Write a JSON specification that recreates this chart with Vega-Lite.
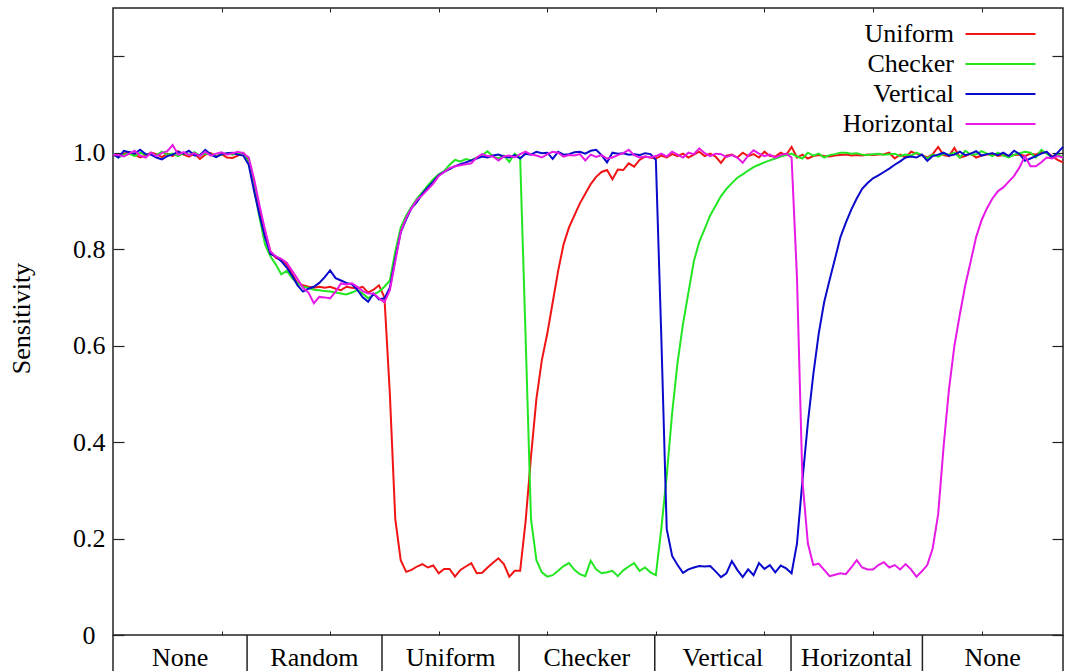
{
"$schema": "https://vega.github.io/schema/vega-lite/v6.json",
"width": 950, "height": 627,
"autosize": {"type": "none"},
"padding": {"left": 113, "top": 8, "right": 2, "bottom": 36},
"background": "white",
"config": {"view": {"stroke": "#222", "strokeWidth": 1.5}, "font": "Liberation Serif", "axis": {"domain": false, "grid": false}},
"datasets": {
"curves": [
{"x":0,"Uniform":0.995,"Checker":0.998,"Vertical":0.997,"Horizontal":0.996},
{"x":1,"Uniform":0.993,"Checker":0.99,"Vertical":0.99,"Horizontal":0.995},
{"x":2,"Uniform":0.998,"Checker":0.996,"Vertical":1.004,"Horizontal":0.992},
{"x":3,"Uniform":1.002,"Checker":0.998,"Vertical":1.001,"Horizontal":0.998},
{"x":4,"Uniform":0.996,"Checker":0.993,"Vertical":0.998,"Horizontal":1.004},
{"x":5,"Uniform":0.99,"Checker":1.0,"Vertical":1.006,"Horizontal":0.994},
{"x":6,"Uniform":0.994,"Checker":0.996,"Vertical":0.997,"Horizontal":0.99},
{"x":7,"Uniform":1.0,"Checker":0.998,"Vertical":0.996,"Horizontal":1.0},
{"x":8,"Uniform":0.997,"Checker":0.995,"Vertical":0.99,"Horizontal":0.993},
{"x":9,"Uniform":0.991,"Checker":1.002,"Vertical":0.986,"Horizontal":0.999},
{"x":10,"Uniform":0.998,"Checker":0.996,"Vertical":0.993,"Horizontal":1.003},
{"x":11,"Uniform":0.993,"Checker":0.998,"Vertical":0.996,"Horizontal":1.016},
{"x":12,"Uniform":1.003,"Checker":0.993,"Vertical":1.002,"Horizontal":0.996},
{"x":13,"Uniform":0.996,"Checker":0.999,"Vertical":0.998,"Horizontal":1.001},
{"x":14,"Uniform":0.992,"Checker":0.996,"Vertical":1.004,"Horizontal":0.995},
{"x":15,"Uniform":0.998,"Checker":1.001,"Vertical":0.994,"Horizontal":0.999},
{"x":16,"Uniform":0.987,"Checker":0.994,"Vertical":0.995,"Horizontal":0.993},
{"x":17,"Uniform":0.996,"Checker":0.998,"Vertical":1.006,"Horizontal":1.002},
{"x":18,"Uniform":0.999,"Checker":0.997,"Vertical":0.996,"Horizontal":0.994},
{"x":19,"Uniform":0.993,"Checker":0.992,"Vertical":0.991,"Horizontal":0.998},
{"x":20,"Uniform":0.997,"Checker":0.996,"Vertical":0.997,"Horizontal":1.001},
{"x":21,"Uniform":0.99,"Checker":0.999,"Vertical":0.999,"Horizontal":0.996},
{"x":22,"Uniform":0.989,"Checker":0.996,"Vertical":1.0,"Horizontal":0.999},
{"x":23,"Uniform":0.994,"Checker":1.0,"Vertical":0.996,"Horizontal":1.002},
{"x":24,"Uniform":1.0,"Checker":0.998,"Vertical":0.994,"Horizontal":0.999},
{"x":25,"Uniform":0.985,"Checker":0.98,"Vertical":0.975,"Horizontal":0.99},
{"x":26,"Uniform":0.935,"Checker":0.925,"Vertical":0.92,"Horizontal":0.945},
{"x":27,"Uniform":0.88,"Checker":0.865,"Vertical":0.87,"Horizontal":0.89},
{"x":28,"Uniform":0.835,"Checker":0.81,"Vertical":0.825,"Horizontal":0.84},
{"x":29,"Uniform":0.795,"Checker":0.785,"Vertical":0.79,"Horizontal":0.795},
{"x":30,"Uniform":0.782,"Checker":0.768,"Vertical":0.785,"Horizontal":0.785},
{"x":31,"Uniform":0.778,"Checker":0.748,"Vertical":0.775,"Horizontal":0.78},
{"x":32,"Uniform":0.768,"Checker":0.755,"Vertical":0.762,"Horizontal":0.772},
{"x":33,"Uniform":0.748,"Checker":0.74,"Vertical":0.745,"Horizontal":0.755},
{"x":34,"Uniform":0.73,"Checker":0.729,"Vertical":0.725,"Horizontal":0.738},
{"x":35,"Uniform":0.725,"Checker":0.722,"Vertical":0.712,"Horizontal":0.72},
{"x":36,"Uniform":0.722,"Checker":0.72,"Vertical":0.718,"Horizontal":0.71},
{"x":37,"Uniform":0.72,"Checker":0.716,"Vertical":0.722,"Horizontal":0.688},
{"x":38,"Uniform":0.722,"Checker":0.715,"Vertical":0.73,"Horizontal":0.701},
{"x":39,"Uniform":0.72,"Checker":0.713,"Vertical":0.742,"Horizontal":0.7},
{"x":40,"Uniform":0.722,"Checker":0.712,"Vertical":0.756,"Horizontal":0.698},
{"x":41,"Uniform":0.718,"Checker":0.71,"Vertical":0.74,"Horizontal":0.712},
{"x":42,"Uniform":0.715,"Checker":0.708,"Vertical":0.735,"Horizontal":0.729},
{"x":43,"Uniform":0.722,"Checker":0.706,"Vertical":0.73,"Horizontal":0.727},
{"x":44,"Uniform":0.72,"Checker":0.71,"Vertical":0.727,"Horizontal":0.729},
{"x":45,"Uniform":0.719,"Checker":0.715,"Vertical":0.716,"Horizontal":0.722},
{"x":46,"Uniform":0.722,"Checker":0.708,"Vertical":0.7,"Horizontal":0.713},
{"x":47,"Uniform":0.71,"Checker":0.698,"Vertical":0.691,"Horizontal":0.708},
{"x":48,"Uniform":0.716,"Checker":0.706,"Vertical":0.708,"Horizontal":0.708},
{"x":49,"Uniform":0.725,"Checker":0.712,"Vertical":0.696,"Horizontal":0.698},
{"x":50,"Uniform":0.7,"Checker":0.722,"Vertical":0.698,"Horizontal":0.69},
{"x":51,"Uniform":0.5,"Checker":0.735,"Vertical":0.72,"Horizontal":0.715},
{"x":52,"Uniform":0.24,"Checker":0.795,"Vertical":0.78,"Horizontal":0.775},
{"x":53,"Uniform":0.155,"Checker":0.845,"Vertical":0.835,"Horizontal":0.835},
{"x":54,"Uniform":0.131,"Checker":0.87,"Vertical":0.862,"Horizontal":0.865},
{"x":55,"Uniform":0.135,"Checker":0.888,"Vertical":0.885,"Horizontal":0.885},
{"x":56,"Uniform":0.142,"Checker":0.905,"Vertical":0.898,"Horizontal":0.902},
{"x":57,"Uniform":0.147,"Checker":0.918,"Vertical":0.915,"Horizontal":0.912},
{"x":58,"Uniform":0.14,"Checker":0.932,"Vertical":0.928,"Horizontal":0.924},
{"x":59,"Uniform":0.144,"Checker":0.945,"Vertical":0.94,"Horizontal":0.936},
{"x":60,"Uniform":0.128,"Checker":0.955,"Vertical":0.953,"Horizontal":0.952},
{"x":61,"Uniform":0.137,"Checker":0.962,"Vertical":0.96,"Horizontal":0.96},
{"x":62,"Uniform":0.137,"Checker":0.975,"Vertical":0.966,"Horizontal":0.968},
{"x":63,"Uniform":0.121,"Checker":0.985,"Vertical":0.972,"Horizontal":0.972},
{"x":64,"Uniform":0.135,"Checker":0.982,"Vertical":0.976,"Horizontal":0.974},
{"x":65,"Uniform":0.142,"Checker":0.987,"Vertical":0.98,"Horizontal":0.976},
{"x":66,"Uniform":0.149,"Checker":0.984,"Vertical":0.984,"Horizontal":0.978},
{"x":67,"Uniform":0.128,"Checker":0.99,"Vertical":0.988,"Horizontal":0.99},
{"x":68,"Uniform":0.129,"Checker":0.995,"Vertical":0.992,"Horizontal":0.997},
{"x":69,"Uniform":0.14,"Checker":1.003,"Vertical":0.99,"Horizontal":0.993},
{"x":70,"Uniform":0.15,"Checker":0.992,"Vertical":0.994,"Horizontal":0.992},
{"x":71,"Uniform":0.159,"Checker":0.988,"Vertical":0.996,"Horizontal":0.984},
{"x":72,"Uniform":0.147,"Checker":0.994,"Vertical":0.992,"Horizontal":0.992},
{"x":73,"Uniform":0.121,"Checker":0.981,"Vertical":0.99,"Horizontal":0.994},
{"x":74,"Uniform":0.133,"Checker":0.998,"Vertical":0.995,"Horizontal":0.99},
{"x":75,"Uniform":0.133,"Checker":0.99,"Vertical":0.988,"Horizontal":0.997},
{"x":76,"Uniform":0.235,"Checker":0.62,"Vertical":0.998,"Horizontal":1.002},
{"x":77,"Uniform":0.37,"Checker":0.24,"Vertical":0.996,"Horizontal":0.996},
{"x":78,"Uniform":0.49,"Checker":0.155,"Vertical":1.002,"Horizontal":0.994},
{"x":79,"Uniform":0.57,"Checker":0.13,"Vertical":0.999,"Horizontal":0.99},
{"x":80,"Uniform":0.625,"Checker":0.121,"Vertical":1.0,"Horizontal":0.997},
{"x":81,"Uniform":0.69,"Checker":0.124,"Vertical":0.987,"Horizontal":1.002},
{"x":82,"Uniform":0.755,"Checker":0.133,"Vertical":1.002,"Horizontal":1.0},
{"x":83,"Uniform":0.81,"Checker":0.143,"Vertical":0.996,"Horizontal":0.992},
{"x":84,"Uniform":0.845,"Checker":0.149,"Vertical":0.997,"Horizontal":0.995},
{"x":85,"Uniform":0.87,"Checker":0.135,"Vertical":1.001,"Horizontal":0.994},
{"x":86,"Uniform":0.895,"Checker":0.126,"Vertical":1.002,"Horizontal":0.997},
{"x":87,"Uniform":0.915,"Checker":0.122,"Vertical":0.998,"Horizontal":0.984},
{"x":88,"Uniform":0.935,"Checker":0.154,"Vertical":1.004,"Horizontal":0.996},
{"x":89,"Uniform":0.95,"Checker":0.136,"Vertical":1.006,"Horizontal":0.991},
{"x":90,"Uniform":0.96,"Checker":0.128,"Vertical":0.995,"Horizontal":0.995},
{"x":91,"Uniform":0.964,"Checker":0.13,"Vertical":0.98,"Horizontal":0.988},
{"x":92,"Uniform":0.945,"Checker":0.133,"Vertical":1.0,"Horizontal":0.99},
{"x":93,"Uniform":0.965,"Checker":0.122,"Vertical":0.998,"Horizontal":0.995},
{"x":94,"Uniform":0.964,"Checker":0.134,"Vertical":0.999,"Horizontal":0.999},
{"x":95,"Uniform":0.978,"Checker":0.142,"Vertical":0.996,"Horizontal":1.006},
{"x":96,"Uniform":0.971,"Checker":0.149,"Vertical":0.997,"Horizontal":0.995},
{"x":97,"Uniform":0.985,"Checker":0.133,"Vertical":0.995,"Horizontal":0.99},
{"x":98,"Uniform":0.992,"Checker":0.14,"Vertical":0.999,"Horizontal":0.992},
{"x":99,"Uniform":0.99,"Checker":0.13,"Vertical":0.997,"Horizontal":0.99},
{"x":100,"Uniform":0.988,"Checker":0.124,"Vertical":0.985,"Horizontal":0.993},
{"x":101,"Uniform":0.994,"Checker":0.22,"Vertical":0.62,"Horizontal":0.998},
{"x":102,"Uniform":0.99,"Checker":0.33,"Vertical":0.22,"Horizontal":0.992},
{"x":103,"Uniform":0.997,"Checker":0.46,"Vertical":0.164,"Horizontal":1.002},
{"x":104,"Uniform":0.993,"Checker":0.565,"Vertical":0.145,"Horizontal":0.996},
{"x":105,"Uniform":0.998,"Checker":0.645,"Vertical":0.129,"Horizontal":0.99},
{"x":106,"Uniform":0.99,"Checker":0.71,"Vertical":0.136,"Horizontal":1.0},
{"x":107,"Uniform":0.996,"Checker":0.775,"Vertical":0.14,"Horizontal":0.997},
{"x":108,"Uniform":1.002,"Checker":0.815,"Vertical":0.143,"Horizontal":1.009},
{"x":109,"Uniform":0.993,"Checker":0.842,"Vertical":0.142,"Horizontal":0.999},
{"x":110,"Uniform":0.998,"Checker":0.87,"Vertical":0.143,"Horizontal":0.993},
{"x":111,"Uniform":0.992,"Checker":0.89,"Vertical":0.132,"Horizontal":0.998},
{"x":112,"Uniform":0.979,"Checker":0.91,"Vertical":0.12,"Horizontal":0.997},
{"x":113,"Uniform":0.994,"Checker":0.925,"Vertical":0.128,"Horizontal":0.991},
{"x":114,"Uniform":0.996,"Checker":0.937,"Vertical":0.153,"Horizontal":0.995},
{"x":115,"Uniform":0.99,"Checker":0.948,"Vertical":0.135,"Horizontal":0.99},
{"x":116,"Uniform":1.0,"Checker":0.955,"Vertical":0.12,"Horizontal":0.979},
{"x":117,"Uniform":0.993,"Checker":0.963,"Vertical":0.136,"Horizontal":0.994},
{"x":118,"Uniform":0.997,"Checker":0.97,"Vertical":0.124,"Horizontal":1.005},
{"x":119,"Uniform":0.99,"Checker":0.975,"Vertical":0.149,"Horizontal":0.998},
{"x":120,"Uniform":1.002,"Checker":0.98,"Vertical":0.137,"Horizontal":0.993},
{"x":121,"Uniform":0.993,"Checker":0.984,"Vertical":0.145,"Horizontal":0.996},
{"x":122,"Uniform":0.992,"Checker":0.988,"Vertical":0.13,"Horizontal":0.99},
{"x":123,"Uniform":1.0,"Checker":0.992,"Vertical":0.144,"Horizontal":0.995},
{"x":124,"Uniform":0.995,"Checker":0.995,"Vertical":0.138,"Horizontal":0.998},
{"x":125,"Uniform":1.012,"Checker":0.998,"Vertical":0.128,"Horizontal":0.99},
{"x":126,"Uniform":0.99,"Checker":0.992,"Vertical":0.19,"Horizontal":0.74},
{"x":127,"Uniform":0.996,"Checker":0.988,"Vertical":0.32,"Horizontal":0.32},
{"x":128,"Uniform":0.988,"Checker":1.0,"Vertical":0.44,"Horizontal":0.19},
{"x":129,"Uniform":0.993,"Checker":0.994,"Vertical":0.54,"Horizontal":0.145},
{"x":130,"Uniform":0.995,"Checker":0.998,"Vertical":0.625,"Horizontal":0.148},
{"x":131,"Uniform":0.993,"Checker":0.99,"Vertical":0.69,"Horizontal":0.135},
{"x":132,"Uniform":0.992,"Checker":0.995,"Vertical":0.736,"Horizontal":0.122},
{"x":133,"Uniform":0.994,"Checker":0.997,"Vertical":0.78,"Horizontal":0.125},
{"x":134,"Uniform":0.995,"Checker":1.0,"Vertical":0.825,"Horizontal":0.128},
{"x":135,"Uniform":0.996,"Checker":1.0,"Vertical":0.855,"Horizontal":0.126},
{"x":136,"Uniform":0.994,"Checker":0.998,"Vertical":0.882,"Horizontal":0.14},
{"x":137,"Uniform":0.995,"Checker":0.999,"Vertical":0.905,"Horizontal":0.155},
{"x":138,"Uniform":0.994,"Checker":0.996,"Vertical":0.925,"Horizontal":0.14},
{"x":139,"Uniform":0.996,"Checker":0.995,"Vertical":0.937,"Horizontal":0.136},
{"x":140,"Uniform":0.995,"Checker":0.997,"Vertical":0.947,"Horizontal":0.136},
{"x":141,"Uniform":0.996,"Checker":0.998,"Vertical":0.953,"Horizontal":0.145},
{"x":142,"Uniform":0.997,"Checker":0.996,"Vertical":0.96,"Horizontal":0.151},
{"x":143,"Uniform":1.0,"Checker":0.997,"Vertical":0.967,"Horizontal":0.14},
{"x":144,"Uniform":0.988,"Checker":0.998,"Vertical":0.975,"Horizontal":0.145},
{"x":145,"Uniform":0.996,"Checker":0.993,"Vertical":0.982,"Horizontal":0.136},
{"x":146,"Uniform":0.99,"Checker":0.996,"Vertical":0.99,"Horizontal":0.147},
{"x":147,"Uniform":1.002,"Checker":0.994,"Vertical":0.992,"Horizontal":0.136},
{"x":148,"Uniform":0.998,"Checker":1.0,"Vertical":0.99,"Horizontal":0.121},
{"x":149,"Uniform":0.995,"Checker":0.995,"Vertical":0.996,"Horizontal":0.132},
{"x":150,"Uniform":0.99,"Checker":0.988,"Vertical":0.983,"Horizontal":0.145},
{"x":151,"Uniform":0.997,"Checker":0.996,"Vertical":0.993,"Horizontal":0.18},
{"x":152,"Uniform":1.012,"Checker":0.992,"Vertical":0.996,"Horizontal":0.25},
{"x":153,"Uniform":0.995,"Checker":0.998,"Vertical":1.0,"Horizontal":0.39},
{"x":154,"Uniform":0.993,"Checker":0.996,"Vertical":0.994,"Horizontal":0.51},
{"x":155,"Uniform":1.01,"Checker":1.0,"Vertical":0.996,"Horizontal":0.6},
{"x":156,"Uniform":0.99,"Checker":0.99,"Vertical":1.002,"Horizontal":0.665},
{"x":157,"Uniform":0.993,"Checker":1.004,"Vertical":0.995,"Horizontal":0.725},
{"x":158,"Uniform":0.998,"Checker":0.996,"Vertical":0.998,"Horizontal":0.775},
{"x":159,"Uniform":0.99,"Checker":0.996,"Vertical":1.003,"Horizontal":0.825},
{"x":160,"Uniform":0.994,"Checker":1.003,"Vertical":0.994,"Horizontal":0.86},
{"x":161,"Uniform":0.996,"Checker":0.998,"Vertical":0.997,"Horizontal":0.885},
{"x":162,"Uniform":0.998,"Checker":0.993,"Vertical":0.999,"Horizontal":0.905},
{"x":163,"Uniform":0.993,"Checker":1.0,"Vertical":0.995,"Horizontal":0.92},
{"x":164,"Uniform":0.995,"Checker":0.994,"Vertical":1.0,"Horizontal":0.928},
{"x":165,"Uniform":0.993,"Checker":0.99,"Vertical":0.993,"Horizontal":0.94},
{"x":166,"Uniform":0.995,"Checker":0.996,"Vertical":1.004,"Horizontal":0.952},
{"x":167,"Uniform":0.996,"Checker":0.999,"Vertical":0.997,"Horizontal":0.97},
{"x":168,"Uniform":0.993,"Checker":1.002,"Vertical":0.983,"Horizontal":0.993},
{"x":169,"Uniform":0.998,"Checker":1.0,"Vertical":0.988,"Horizontal":0.972},
{"x":170,"Uniform":0.996,"Checker":0.99,"Vertical":0.993,"Horizontal":0.972},
{"x":171,"Uniform":1.002,"Checker":1.006,"Vertical":0.998,"Horizontal":0.98},
{"x":172,"Uniform":1.0,"Checker":0.998,"Vertical":1.002,"Horizontal":0.99},
{"x":173,"Uniform":0.993,"Checker":0.99,"Vertical":0.99,"Horizontal":0.988},
{"x":174,"Uniform":0.985,"Checker":0.997,"Vertical":1.0,"Horizontal":0.993},
{"x":175,"Uniform":0.98,"Checker":0.99,"Vertical":1.012,"Horizontal":0.99}
],
"edges": [{"edge":0},{"edge":24.7},{"edge":49.55},{"edge":74.8},{"edge":99.8},{"edge":124.9},{"edge":149.1},{"edge":175}],
"labels": [
{"label":"None","mid":12.35},
{"label":"Random","mid":37.1},
{"label":"Uniform","mid":62.2},
{"label":"Checker","mid":87.3},
{"label":"Vertical","mid":112.35},
{"label":"Horizontal","mid":137.0},
{"label":"None","mid":162.05}
]
},
"layer": [
{
"data": {"name": "curves"},
"transform": [{"fold": ["Uniform", "Checker", "Vertical", "Horizontal"], "as": ["series", "value"]}],
"mark": {"type": "line", "strokeWidth": 2},
"encoding": {
"x": {"field": "x", "type": "quantitative", "scale": {"domain": [0, 175], "nice": false, "zero": false},
"axis": {"orient": "bottom", "values": [20, 40, 60, 80, 100, 120, 140, 160], "tickSize": -4, "tickColor": "#222", "labels": false, "title": null}},
"y": {"field": "value", "type": "quantitative", "scale": {"domain": [0, 1.3], "nice": false, "zero": false},
"axis": {"orient": "left", "values": [0, 0.2, 0.4, 0.6, 0.8, 1.0, 1.2], "tickSize": -11, "tickColor": "#222", "tickWidth": 1.2,
"labelExpr": "datum.value == 0 ? '0' : (datum.value > 1.1 ? '' : format(datum.value, '.1f'))",
"labelFont": "Liberation Serif", "labelFontSize": 26, "labelColor": "black",
"labelPadding": {"condition": {"test": "datum.value == 0", "value": 29}, "value": 19},
"title": "Sensitivity", "titleFont": "Liberation Serif", "titleFontSize": 26, "titleFontWeight": "normal", "titleColor": "black",
"titleX": -92, "titleY": 310, "titleAngle": -90, "titleAlign": "center", "titleBaseline": "middle"}},
"color": {"field": "series", "type": "nominal",
"scale": {"domain": ["Uniform", "Checker", "Vertical", "Horizontal"], "range": ["#f01414", "#22e622", "#0a0acc", "#e619e6"]},
"legend": {"orient": "none", "legendX": 874.5, "legendY": 13, "title": null, "symbolType": "M-5,0H5", "symbolSize": 196, "symbolStrokeWidth": 2,
"labelAlign": "right", "labelOffset": -59.5, "labelFont": "Liberation Serif", "labelFontSize": 26, "labelColor": "black", "rowPadding": 4, "padding": 0}}
}
},
{
"data": {"name": "edges"},
"mark": {"type": "rule", "color": "#222", "strokeWidth": 1.5},
"encoding": {
"x": {"field": "edge", "type": "quantitative",
"axis": {"orient": "top", "values": [20, 40, 60, 80, 100, 120, 140, 160], "tickSize": -4, "tickColor": "#222", "labels": false, "title": null}},
"y": {"datum": 0, "type": "quantitative",
"axis": {"orient": "right", "values": [0, 0.2, 0.4, 0.6, 0.8, 1.0, 1.2], "tickSize": -11, "tickColor": "#222", "tickWidth": 1.2, "labels": false, "title": null}},
"y2": {"datum": -0.1}
}
},
{
"data": {"name": "labels"},
"mark": {"type": "text", "font": "Liberation Serif", "fontSize": 26, "baseline": "middle", "align": "center", "color": "black"},
"encoding": {
"x": {"field": "mid", "type": "quantitative", "axis": null},
"y": {"datum": -0.048, "type": "quantitative", "axis": null},
"text": {"field": "label"}
}
}
],
"resolve": {"axis": {"x": "independent", "y": "independent"}}
}
